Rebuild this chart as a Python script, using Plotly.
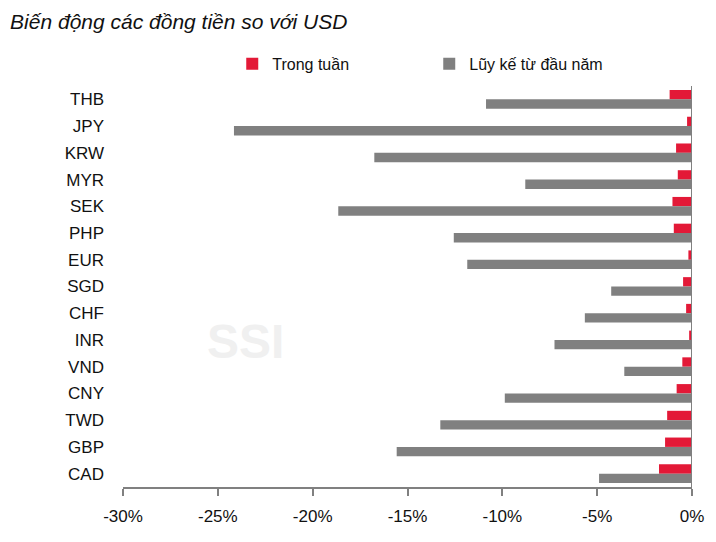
import plotly.graph_objects as go

currencies = ["THB", "JPY", "KRW", "MYR", "SEK", "PHP", "EUR", "SGD", "CHF", "INR", "VND", "CNY", "TWD", "GBP", "CAD"]
weekly = [-1.18, -0.26, -0.84, -0.75, -1.03, -0.96, -0.19, -0.47, -0.31, -0.15, -0.51, -0.81, -1.31, -1.42, -1.74]
ytd = [-10.86, -24.15, -16.75, -8.79, -18.65, -12.56, -11.85, -4.26, -5.65, -7.25, -3.57, -9.87, -13.27, -15.57, -4.90]
tick_vals = [-30, -25, -20, -15, -10, -5, 0]
tick_text = ["-30%", "-25%", "-20%", "-15%", "-10%", "-5%", "0%"]

FONT = "Liberation Sans Narrow, Arial Narrow, Liberation Sans, Arial, sans-serif"
RED = "#E31937"
GRAY = "#808080"

fig = go.Figure()
fig.add_trace(go.Bar(y=currencies, x=weekly, orientation="h", name="Trong tuần",
                     marker=dict(color=RED, line=dict(width=0))))
fig.add_trace(go.Bar(y=currencies, x=ytd, orientation="h", name="Lũy kế từ đầu năm",
                     marker=dict(color=GRAY, line=dict(width=0))))

fig.add_shape(type="line", xref="x", yref="paper", x0=0, x1=0, y0=0, y1=1,
              line=dict(color="#808080", width=2), layer="above")

fig.add_annotation(text="<b>SSI</b>", xref="paper", yref="paper", x=0.215, y=0.362,
                   xanchor="center", yanchor="middle",
                   showarrow=False, font=dict(family=FONT, size=48, color="#F0F0F0"))

fig.update_layout(
    width=708, height=534,
    margin=dict(l=115, r=21, t=78, b=55),
    paper_bgcolor="white", plot_bgcolor="white",
    barmode="group", bargap=0.3, bargroupgap=0,
    font=dict(family=FONT, size=17, color="#111111"),
    title=dict(text="<i>Biến động các đồng tiền so với USD</i>", x=0.003, xanchor="left",
               y=1 - 14 / 534, yanchor="middle", font=dict(family=FONT, size=21, color="#111111")),
    legend=dict(orientation="h", x=0.192, xanchor="left", y=1.055, yanchor="middle",
                entrywidth=152, entrywidthmode="pixels", itemwidth=30,
                font=dict(family=FONT, size=16, color="#111111"), bgcolor="rgba(0,0,0,0)"),
    showlegend=True,
)
fig.update_xaxes(range=[-30, 0], tickvals=tick_vals, ticktext=tick_text, showgrid=False,
                 zeroline=False, showline=True, linecolor="#808080", linewidth=2,
                 ticks="outside", ticklen=7, tickwidth=2, tickcolor="#808080",
                 ticklabelstandoff=6,
                 tickfont=dict(family=FONT, size=17, color="#111111"))
fig.update_yaxes(autorange="reversed", showgrid=False, zeroline=False, showline=False,
                 ticks="", ticklabelstandoff=18,
                 tickfont=dict(family=FONT, size=17, color="#111111"))

fig.write_html("out.html")
